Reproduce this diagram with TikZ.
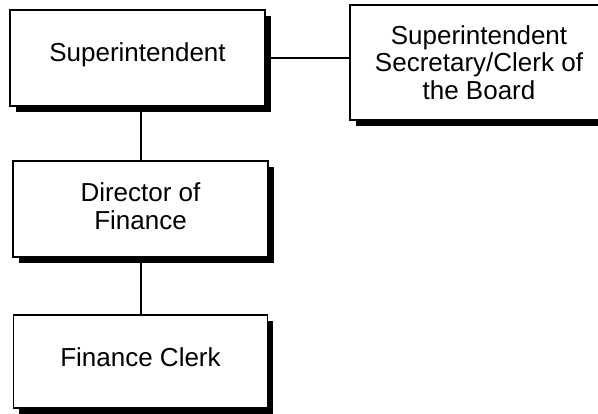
\documentclass[tikz,border=0pt]{standalone}
\usepackage{fontspec}
\setmainfont{Liberation Sans}
\usetikzlibrary{shadows}
\tikzset{
  orgbox/.style={draw=black, line width=1.2pt, fill=white, rectangle,
    inner sep=0pt,
    general shadow={fill=black, shadow xshift=5.5pt, shadow yshift=-5.5pt}},
  boxtext/.style={align=center, inner sep=0pt,
    font=\fontsize{26}{27.5}\selectfont},
  link/.style={draw=black, line width=2pt}
}
\begin{document}
\begin{tikzpicture}[x=1pt, y=-1pt]
  \clip (0,0) rectangle (598,413);
  \fill[white] (0,0) rectangle (598,413);

  % the four posts
  \node[orgbox, minimum width=255pt, minimum height=96pt] (supt) at (137.5,58) {};
  \node[boxtext] (supt-t) at ([yshift=3pt]supt.center) {Superintendent};

  \node[orgbox, minimum width=258pt, minimum height=115pt] (sec) at (479,62.5) {};
  \node[boxtext] (sec-t) at (sec.center) {Superintendent\\Secretary/Clerk of\\the Board};

  \node[orgbox, minimum width=255pt, minimum height=96pt] (dir) at (140.5,209) {};
  \node[boxtext] (dir-t) at ([yshift=3pt]dir.center) {Director of\\Finance};

  \node[orgbox, minimum width=254pt, minimum height=93pt] (clerk) at (140.5,361.5) {};
  \node[boxtext] (clerk-t) at ([yshift=4pt]clerk.center) {Finance Clerk};

  % reporting lines
  \draw[link] (supt.east) -- (supt.east -| sec.west);
  \draw[link] (dir.north) -- (dir.north |- supt.south);
  \draw[link] (clerk.north) -- (clerk.north |- dir.south);
\end{tikzpicture}
\end{document}
